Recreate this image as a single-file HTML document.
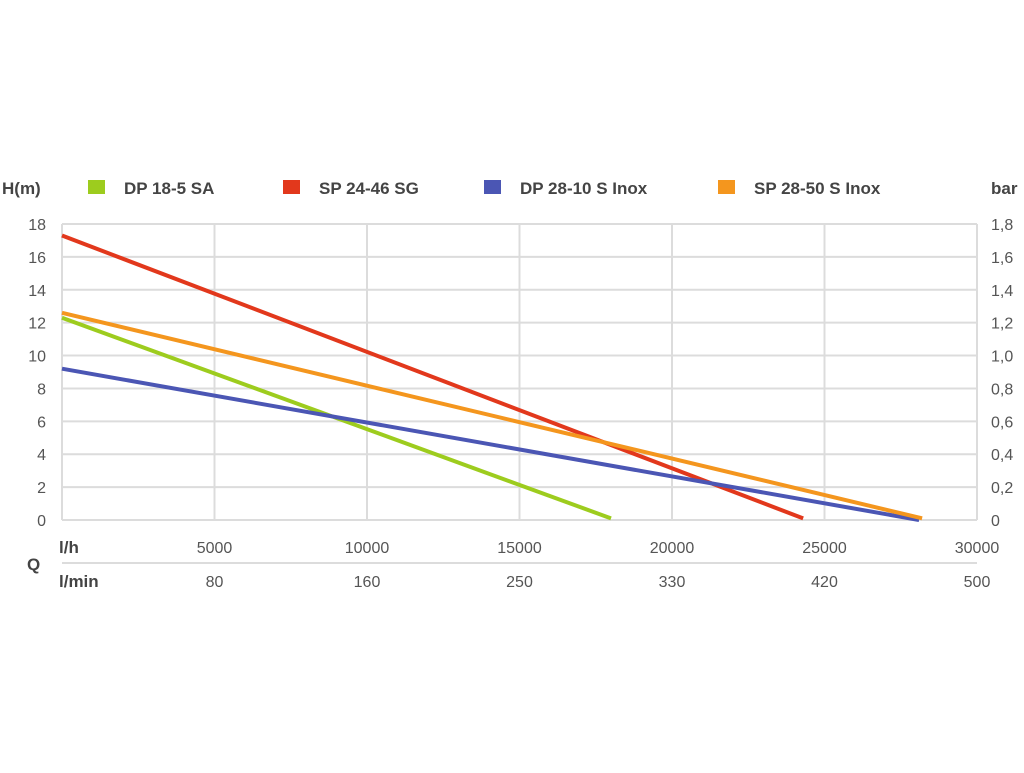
<!DOCTYPE html>
<html><head><meta charset="utf-8"><style>
body{margin:0;background:#fff;font-family:"Liberation Sans",sans-serif}
svg text{font-family:"Liberation Sans",sans-serif}
</style></head><body>
<svg id="chart" width="1024" height="768" xmlns="http://www.w3.org/2000/svg">
<g id="grid"></g>
<g id="axes"></g>
<g id="series"></g>
<g id="legend"></g>
</svg>
<script>
const xTicks=[5000,10000,15000,20000,25000,30000];
const minTicks=["80","160","250","330","420","500"];
const yTicks=[0,2,4,6,8,10,12,14,16,18];
const barTicks=["0","0,2","0,4","0,6","0,8","1,0","1,2","1,4","1,6","1,8"];
const seriesNames=["DP 18-5 SA","SP 24-46 SG","DP 28-10 S Inox","SP 28-50 S Inox"];
const seriesColors=["#9dcc1e","#e2381c","#4b56b4","#f4961e"];
const greenPts=[[0,12.3],[18000,0.1]];
const redPts=[[0,17.3],[24300,0.1]];
const bluePts=[[0,9.2],[28100,0]];
const orangePts=[[0,12.6],[28200,0.1]];
const allSeries=[greenPts,redPts,bluePts,orangePts];
const NS="http://www.w3.org/2000/svg";
const X0=62,X1=977,Y0=520,Y1=224;
const xs=v=>X0+(v/30000)*(X1-X0);
const ys=v=>Y0-(v/18)*(Y0-Y1);
function mk(tag,attrs,parent,txt){const e=document.createElementNS(NS,tag);for(const k in attrs)e.setAttribute(k,attrs[k]);if(txt!==undefined)e.textContent=txt;parent.appendChild(e);return e;}
const grid=document.getElementById('grid'),axes=document.getElementById('axes'),ser=document.getElementById('series'),leg=document.getElementById('legend');
yTicks.forEach((t,i)=>{
 const l=mk('line',{x1:X0,x2:X1,y1:ys(t),y2:ys(t),stroke:'#dcdcdc','stroke-width':2},grid);
 
 
 const a=mk('text',{x:46,y:ys(t)+6,'text-anchor':'end','font-size':16,fill:'#555'},axes,String(t));
 
 
 const b=mk('text',{x:991,y:ys(t)+6,'font-size':16,fill:'#555'},axes,barTicks[i]);
 
 
});
[0].concat(xTicks).forEach(t=>{
 const l=mk('line',{x1:xs(t),x2:xs(t),y1:Y1,y2:Y0,stroke:'#dcdcdc','stroke-width':2},grid);
 
 
});
xTicks.forEach((t,i)=>{
 const a=mk('text',{x:xs(t),y:553,'text-anchor':'middle','font-size':16,fill:'#555'},axes,String(t));
 
 
 const b=mk('text',{x:xs(t),y:587,'text-anchor':'middle','font-size':16,fill:'#555'},axes,minTicks[i]);
 
 
});
const sep=mk('line',{x1:X0,x2:X1,y1:563,y2:563,stroke:'#dcdcdc','stroke-width':2},axes);


[["l/h",59,553,'unit-lh'],["l/min",59,587,'unit-lmin'],["Q",27,570,'q-label'],["H(m)",2,194,'y-axis-title'],["bar",991,194,'bar-axis-title']].forEach(d=>{
 const t=mk('text',{x:d[1],y:d[2],'font-size':17,'font-weight':'bold',fill:'#444'},axes,d[0]);
 
 
});
allSeries.forEach((pts,i)=>{
 const p=mk('polyline',{points:pts.map(q=>xs(q[0])+','+ys(q[1])).join(' '),fill:'none',stroke:seriesColors[i],'stroke-width':4,'stroke-linecap':'butt'},ser);
 
 
});
const legX=[88,283,484,718];
seriesNames.forEach((n,i)=>{
 const r=mk('rect',{x:legX[i],y:180,width:17,height:14,fill:seriesColors[i]},leg);
 
 
 const t=mk('text',{x:legX[i]+36,y:194,'font-size':17,'font-weight':'bold',fill:'#444'},leg,n);
 
 
});
</script>
</body></html>
